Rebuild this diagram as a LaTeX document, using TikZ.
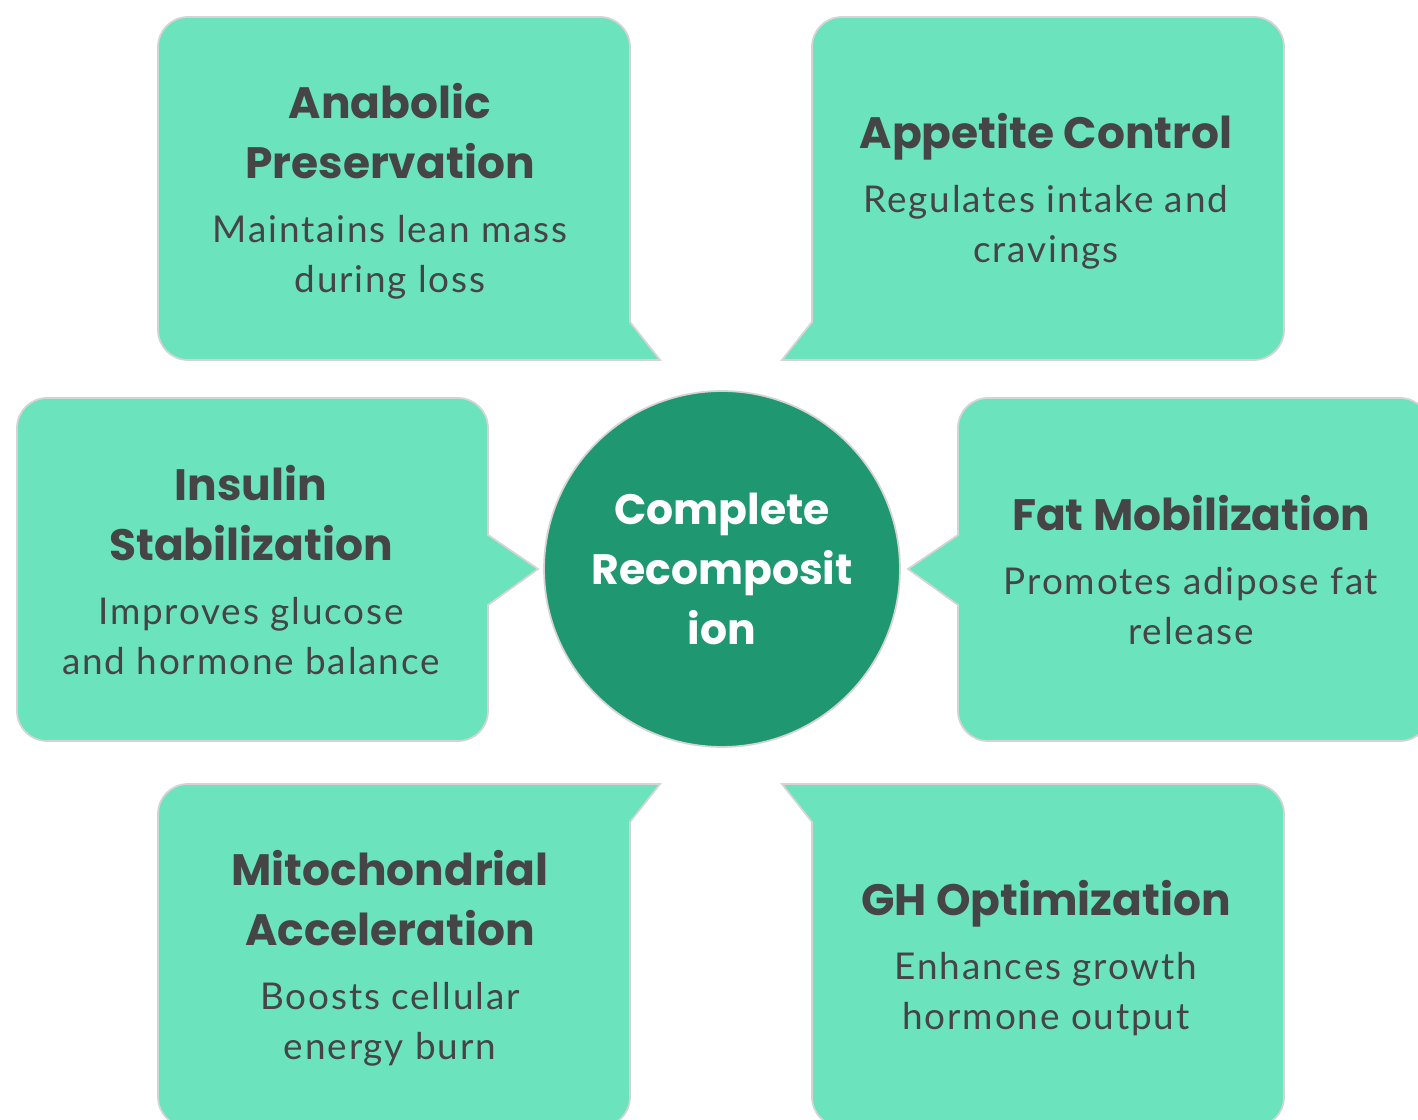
\documentclass[tikz,border=0pt]{standalone}
\usepackage{fontspec}
\setmainfont{Lato}[LetterSpace=5]
\newfontfamily\headfont{Poppins}
\usepackage{tikz}
\usetikzlibrary{positioning}

\definecolor{cardfill}{HTML}{6BE3BC}
\definecolor{cardline}{HTML}{D4D4D4}
\definecolor{hubfill}{HTML}{1F9770}
\definecolor{inkgray}{HTML}{454545}

\newcommand{\ttl}{\headfont\bfseries\fontsize{25}{28.45}\selectfont}
\newcommand{\bdy}{\fontsize{21}{28.45}\selectfont}

\begin{document}
\begin{tikzpicture}[x=0.02cm, y=0.02cm,
    every node/.style={align=center, inner sep=0pt, text=inkgray, font=\bdy},
    card/.style={fill=cardfill, draw=cardline, line width=1pt}]
  \def\rr{0.6cm}
  \useasboundingbox (0,0) rectangle (1418,1120);
  \clip (0,0) rectangle (1418,1120);

  % callout cards, tail pointing at the hub
  \draw[card] (188,1103) -- (600,1103) arc[start angle=90,end angle=0,radius=\rr]
    -- (630,798) -- (660,760) -- (188,760) arc[start angle=270,end angle=180,radius=\rr]
    -- (158,1073) arc[start angle=180,end angle=90,radius=\rr] -- cycle;
  \draw[card] (842,1103) -- (1254,1103) arc[start angle=90,end angle=0,radius=\rr]
    -- (1284,790) arc[start angle=0,end angle=-90,radius=\rr]
    -- (782,760) -- (812,798) -- (812,1073) arc[start angle=180,end angle=90,radius=\rr] -- cycle;
  \draw[card] (47,722) -- (458,722) arc[start angle=90,end angle=0,radius=\rr]
    -- (488,585) -- (538,551) -- (488,515) -- (488,409) arc[start angle=0,end angle=-90,radius=\rr]
    -- (47,379) arc[start angle=270,end angle=180,radius=\rr]
    -- (17,692) arc[start angle=180,end angle=90,radius=\rr] -- cycle;
  \draw[card] (988,722) -- (1400,722) arc[start angle=90,end angle=0,radius=\rr]
    -- (1430,409) arc[start angle=0,end angle=-90,radius=\rr]
    -- (988,379) arc[start angle=270,end angle=180,radius=\rr]
    -- (958,515) -- (908,551) -- (958,585) -- (958,692) arc[start angle=180,end angle=90,radius=\rr] -- cycle;
  \draw[card] (188,336) -- (660,336) -- (630,298) -- (630,23) arc[start angle=0,end angle=-90,radius=\rr]
    -- (188,-7) arc[start angle=270,end angle=180,radius=\rr]
    -- (158,306) arc[start angle=180,end angle=90,radius=\rr] -- cycle;
  \draw[card] (782,336) -- (1254,336) arc[start angle=90,end angle=0,radius=\rr]
    -- (1284,23) arc[start angle=0,end angle=-90,radius=\rr]
    -- (842,-7) arc[start angle=270,end angle=180,radius=\rr]
    -- (812,298) -- cycle;

  \node[circle, minimum size=7.12cm, fill=hubfill, draw=cardline, line width=1pt,
        text=white, font=\headfont\bfseries\fontsize{24.2}{34.1}\selectfont] (hub)
      at (722,551) {Complete\\Recomposit\\ion};

  \node (anabolic) at (390,929)
      {\ttl Anabolic\\[5.7pt] \ttl Preservation\\[8pt] Maintains lean mass\\ during loss};
  \node (appetite) at (1046,929)
      {\ttl Appetite Control\\[8pt] Regulates intake and\\ cravings};
  \node (insulin) at (251,550)
      {\ttl Insulin\\[5.7pt] \ttl Stabilization\\[8pt] Improves glucose\\ and hormone balance};
  \node (fat) at (1191,550)
      {\ttl Fat Mobilization\\[8pt] Promotes adipose fat\\ release};
  \node (mito) at (390,162)
      {\ttl Mitochondrial\\[5.7pt] \ttl Acceleration\\[8pt] Boosts cellular\\ energy burn};
  \node (gh) at (1046,162)
      {\ttl GH Optimization\\[8pt] Enhances growth\\ hormone output};
\end{tikzpicture}
\end{document}
